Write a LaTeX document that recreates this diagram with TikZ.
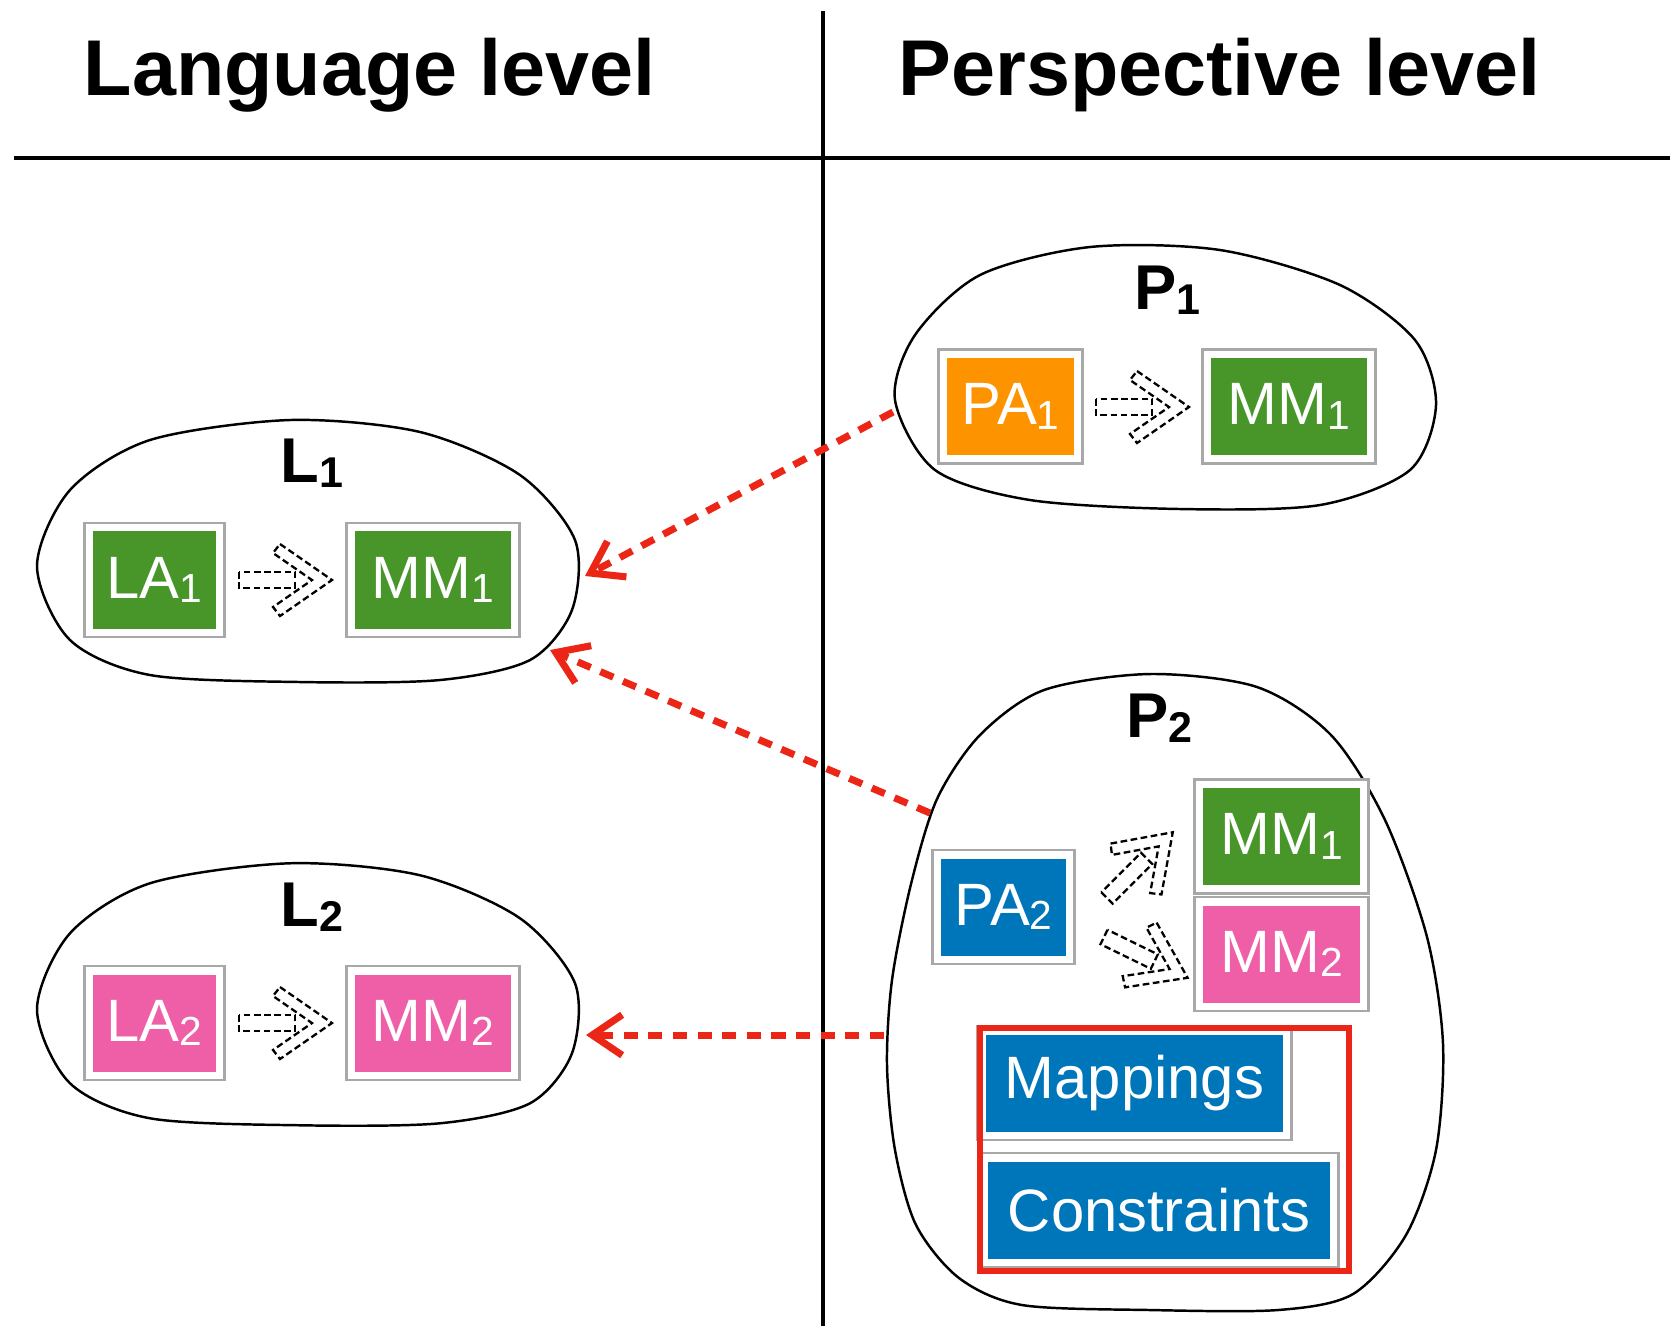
\documentclass[tikz,border=0pt]{standalone}
\usepackage{fontspec}
\setmainfont{Liberation Sans}
\usetikzlibrary{arrows.meta}
\definecolor{mmgreen}{RGB}{72,150,42}
\definecolor{paorange}{RGB}{254,147,0}
\definecolor{mmpink}{RGB}{239,95,167}
\definecolor{pablue}{RGB}{0,118,186}
\definecolor{linkred}{RGB}{236,38,22}
\newcommand{\idx}[1]{\raisebox{-0.08em}{\scalebox{0.68}{#1}}}
\tikzset{
  baseline = (current bounding box.center),
  fatarrow/.pic={
    \draw[flow] (0,-8) rectangle (56,8);
    \draw[flow] (41,-36) -- (93,0) -- (41,36) -- (34,27) -- (73,0) -- (34,-27) -- cycle;
  },
}

\begin{document}
\begin{tikzpicture}[
      x=0.01cm, y=-0.01cm,
      box/.style={rectangle,fill=#1,text=white,inner sep=0pt,minimum height=0.97cm,
        draw=gray!68,line width=0.7pt,double=white,double distance=0.145cm,
        postaction={fill=#1},font=\fontsize{17}{20}\selectfont},
      blob/.style={line width=0.7pt},
      grouplabel/.style={anchor=base west,inner sep=0pt,font=\bfseries\fontsize{18}{21}\selectfont},
      headline/.style={anchor=base west,inner sep=0pt,font=\bfseries\fontsize{22.5}{27}\selectfont},
      flow/.style={line width=0.65pt,dash pattern=on 1.9pt off 1pt},
      redlink/.style={linkred,line width=2pt,dash pattern=on 4pt off 3pt,
        -{Straight Barb[length=8.5pt,width=11.5pt]}}
      ]
      \useasboundingbox (0,0) rectangle (1670,1326);
      \draw[line width=0.9pt] (823,11) -- (823,1326);
      \draw[line width=1.3pt] (14,158) -- (1670,158);
      \node[headline] (langhead) at (83,95) {Language level};
      \node[headline] (persphead) at (898,95) {Perspective level};
      % language level
      \draw[blob] plot[smooth cycle] coordinates {(37,566) (70,490) (150,440) (290,420) (420,432)
        (520,475) (575,540) (572,610) (530,660) (440,680) (300,682) (150,675) (70,640)};
      \node[grouplabel] (l1lab) at (280,482) {L\idx{1}};
      \node[box=mmgreen,minimum width=1.23cm] (la1) at (154.5,580) {LA\idx{1}};
      \node[box=mmgreen,minimum width=1.56cm] (lmm1) at (433,580) {MM\idx{1}};
      \pic at (239,580) {fatarrow};
      \draw[blob,yshift=-4.43cm] plot[smooth cycle] coordinates {(37,566) (70,490) (150,440) (290,420) (420,432)
        (520,475) (575,540) (572,610) (530,660) (440,680) (300,682) (150,675) (70,640)};
      \node[grouplabel] (l2lab) at (280,926) {L\idx{2}};
      \node[box=mmpink,minimum width=1.23cm] (la2) at (154.5,1023) {LA\idx{2}};
      \node[box=mmpink,minimum width=1.56cm] (lmm2) at (433,1023) {MM\idx{2}};
      \pic at (239,1023) {fatarrow};
      % perspective level
      \draw[blob] plot[smooth cycle] coordinates {(895,400) (915,335) (980,275) (1090,247) (1220,250)
        (1340,285) (1415,340) (1436,405) (1410,470) (1320,505) (1180,509) (1030,500) (935,470)};
      \node[grouplabel] (p1lab) at (1134,309) {P\idx{1}};
      \node[box=paorange,minimum width=1.27cm] (pa1) at (1010.5,406.5) {PA\idx{1}};
      \node[box=mmgreen,minimum width=1.56cm] (pmm1) at (1289,406.5) {MM\idx{1}};
      \pic at (1096,407) {fatarrow};
      \draw[blob] plot[smooth cycle] coordinates {(1150,674) (1044,690) (980,735) (937,799) (911,884)
        (892,980) (887,1065) (895,1150) (916,1225) (959,1278) (1022,1305) (1150,1310) (1278,1310)
        (1353,1294) (1406,1235) (1436,1150) (1443,1044) (1427,937) (1385,820) (1331,735) (1257,687)};
      \node[grouplabel] (p2lab) at (1126,737) {P\idx{2}};
      \node[box=pablue,minimum width=1.25cm] (pa2) at (1003.5,907) {PA\idx{2}};
      \node[box=mmgreen,minimum width=1.57cm] (qmm1) at (1281.5,836.5) {MM\idx{1}};
      \node[box=mmpink,minimum width=1.57cm] (qmm2) at (1281.5,954) {MM\idx{2}};
      \pic[rotate=45] at (1107,898) {fatarrow};
      \pic[rotate=-26] at (1104,937) {fatarrow};
      \node[box=pablue,minimum width=2.97cm] (maps) at (1134.5,1083) {Mappings};
      \node[box=pablue,minimum width=3.42cm] (cons) at (1159,1210) {Constraints};
      \draw[linkred,line width=1.5pt] (980,1028) rectangle (1349,1271);
      % links between levels
      \coordinate (p1w) at (893,412);
      \coordinate (l1e) at (585,576);
      \coordinate (p2nw) at (930,813);
      \coordinate (l1se) at (550,650);
      \coordinate (p2w) at (884,1035);
      \coordinate (l2e) at (586,1035);
      \draw[redlink] (p1w) -- (l1e);
      \draw[redlink] (p2nw) -- (l1se);
      \draw[redlink] (p2w) -- (l2e);
    \end{tikzpicture}
\end{document}
